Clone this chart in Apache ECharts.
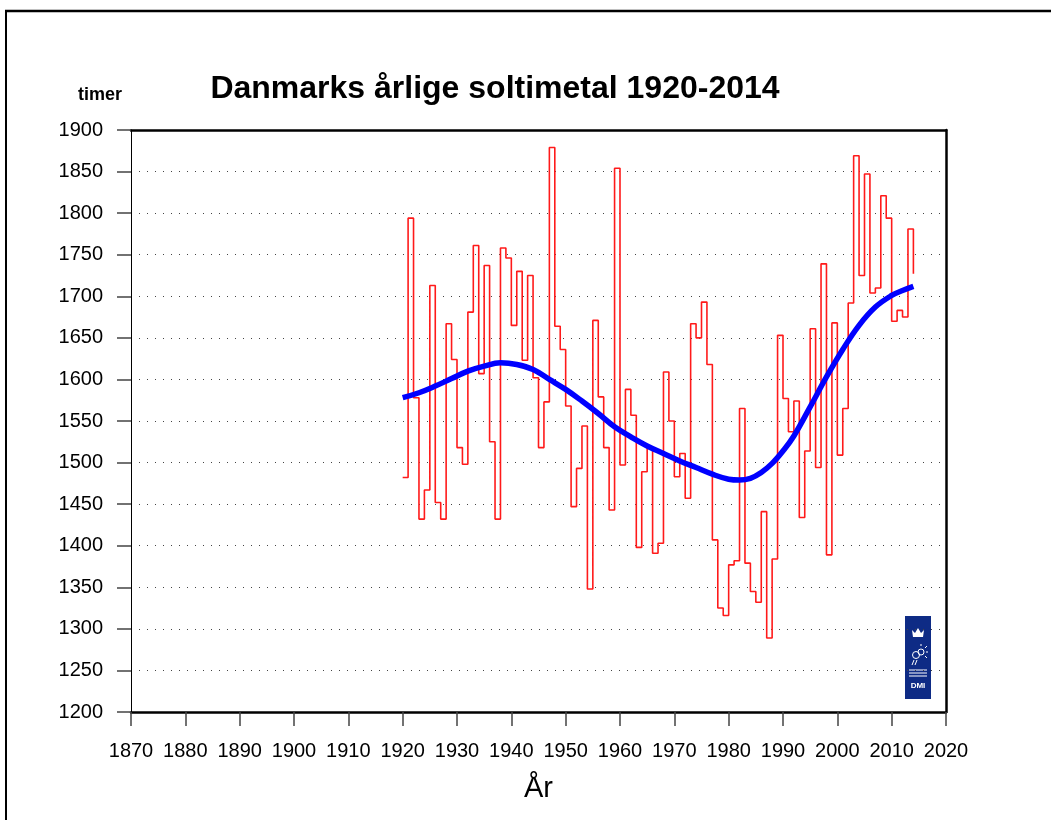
<!DOCTYPE html>
<html>
<head>
<meta charset="utf-8">
<script src="https://cdn.jsdelivr.net/npm/echarts@6/dist/echarts.min.js"></script>
<style>
  html, body { margin: 0; padding: 0; background: #ffffff; }
  #chart { width: 1051px; height: 820px; }
</style>
</head>
<body>
<div id="chart"></div>
<script>
// yearly sunshine hours, Denmark, 1920-2014
const firstYear = 1920
const sunHours = [
  1482, 1794, 1578, 1432, 1467, 1713, 1452, 1432, 1667, 1624,
  1518, 1498, 1681, 1761, 1607, 1737, 1525, 1432, 1758, 1746,
  1665, 1730, 1623, 1725, 1602, 1518, 1573, 1879, 1664, 1636,
  1568, 1447, 1493, 1544, 1348, 1671, 1579, 1518, 1443, 1854,
  1497, 1588, 1557, 1398, 1489, 1519, 1391, 1403, 1609, 1550,
  1483, 1511, 1457, 1667, 1650, 1693, 1618, 1407, 1325, 1316,
  1377, 1382, 1565, 1379, 1345, 1332, 1441, 1289, 1384, 1653,
  1577, 1537, 1574, 1434, 1514, 1661, 1494, 1739, 1389, 1668,
  1509, 1565, 1692, 1869, 1725, 1847, 1704, 1710, 1821, 1794,
  1670, 1683, 1675, 1781, 1727
]

// smoothed trend
const trendYears = [1920, 1923, 1926, 1929, 1932, 1935, 1938, 1941, 1944, 1947, 1950, 1953, 1956, 1959, 1962, 1965, 1968, 1971, 1974, 1977, 1980, 1982, 1984, 1986, 1988, 1990, 1992, 1995, 1998, 2001, 2004, 2007, 2010, 2012, 2014]
const trendHours = [1578, 1584, 1592, 1601, 1610, 1616, 1620, 1618, 1612, 1600, 1588, 1574, 1559, 1543, 1531, 1520, 1511, 1502, 1494, 1486, 1480, 1479, 1481, 1488, 1499, 1514, 1532, 1567, 1603, 1636, 1665, 1687, 1701, 1707, 1712]

const font = 'Arial, "Liberation Sans", sans-serif'

const chart = echarts.init(document.getElementById('chart'), null, { renderer: 'canvas' })

const stepData = sunHours.map((v, i) => [firstYear + i, v])
const trendData = trendYears.map((y, i) => [y, trendHours[i]])

const option = {
  backgroundColor: '#ffffff',
  animation: false,
  title: [
    {
      text: 'Danmarks årlige soltimetal 1920-2014',
      left: 490,
      top: 68,
      textAlign: 'center',
      textStyle: { fontFamily: font, fontSize: 32, fontWeight: 'bold', color: '#000' },
    },
    {
      text: 'timer',
      left: 95,
      top: 81,
      textAlign: 'center',
      textStyle: { fontFamily: font, fontSize: 18, fontWeight: 'bold', color: '#000' },
    },
  ],
  grid: { left: 131, top: 130, right: 105, bottom: 108, show: false },
  xAxis: [
    {
      type: 'value',
      min: 1870,
      max: 2020,
      interval: 10,
      name: 'År',
      nameLocation: 'middle',
      nameGap: 62,
      nameTextStyle: { fontFamily: font, fontSize: 29, color: '#000' },
      axisLine: { show: true, onZero: false, lineStyle: { color: '#000', width: 2.5 } },
      axisTick: { show: true, inside: false, length: 14, lineStyle: { color: '#444', width: 1.5 } },
      axisLabel: { fontFamily: font, fontSize: 20, color: '#000', margin: 29, formatter: (v) => String(v) },
      splitLine: { show: false },
    },
    {
      type: 'value',
      position: 'top',
      min: 1870,
      max: 2020,
      axisLine: { show: true, onZero: false, lineStyle: { color: '#000', width: 2.5 } },
      axisTick: { show: false },
      axisLabel: { show: false },
      splitLine: { show: false },
    },
  ],
  yAxis: [
    {
      type: 'value',
      min: 1200,
      max: 1900,
      interval: 50,
      axisLine: { show: true, onZero: false, lineStyle: { color: '#000', width: 1 } },
      axisTick: { show: true, inside: false, length: 14, lineStyle: { color: '#444', width: 1.5 } },
      axisLabel: { fontFamily: font, fontSize: 20, color: '#000', margin: 28, formatter: (v) => String(v) },
      splitLine: { show: true, lineStyle: { color: '#444', width: 1, type: [1, 7] } },
    },
    {
      type: 'value',
      position: 'right',
      min: 1200,
      max: 1900,
      axisLine: { show: true, onZero: false, lineStyle: { color: '#000', width: 2.5 } },
      axisTick: { show: false },
      axisLabel: { show: false },
      splitLine: { show: false },
    },
  ],
  series: [
    {
      name: 'Soltimer',
      type: 'line',
      step: 'end',
      data: stepData,
      showSymbol: false,
      lineStyle: { color: '#ff1a1a', width: 1.6 },
      z: 2,
    },
    {
      name: 'Udglattet',
      type: 'line',
      smooth: 0.4,
      data: trendData,
      showSymbol: false,
      lineStyle: { color: '#0000ff', width: 5.5 },
      z: 3,
    },
  ],
  graphic: [
    // outer frame
    { type: 'line', shape: { x1: 5, y1: 11, x2: 1051, y2: 11 }, style: { stroke: '#000', lineWidth: 2.5 } },
    { type: 'line', shape: { x1: 6, y1: 11, x2: 6, y2: 820 }, style: { stroke: '#000', lineWidth: 2 } },
    // DMI logo
    {
      type: 'group',
      left: 905,
      top: 616,
      children: [
        { type: 'rect', shape: { x: 0, y: 0, width: 26, height: 83 }, style: { fill: '#0e2b85' } },
        { type: 'polygon', shape: { points: [[8, 21], [7, 14], [10, 17], [13, 12], [16, 17], [19, 14], [18, 21]] }, style: { fill: '#fff' } },
        { type: 'circle', shape: { cx: 16, cy: 36, r: 3 }, style: { fill: 'none', stroke: '#fff', lineWidth: 1 } },
        { type: 'circle', shape: { cx: 11, cy: 39, r: 3.5 }, style: { fill: 'none', stroke: '#fff', lineWidth: 1 } },
        { type: 'line', shape: { x1: 16, y1: 30, x2: 16, y2: 28 }, style: { stroke: '#fff', lineWidth: 1 } },
        { type: 'line', shape: { x1: 21, y1: 36, x2: 23, y2: 36 }, style: { stroke: '#fff', lineWidth: 1 } },
        { type: 'line', shape: { x1: 20, y1: 32, x2: 22, y2: 30 }, style: { stroke: '#fff', lineWidth: 1 } },
        { type: 'line', shape: { x1: 20, y1: 40, x2: 22, y2: 42 }, style: { stroke: '#fff', lineWidth: 1 } },
        { type: 'line', shape: { x1: 9, y1: 44, x2: 7, y2: 49 }, style: { stroke: '#fff', lineWidth: 1 } },
        { type: 'line', shape: { x1: 12, y1: 44, x2: 10, y2: 49 }, style: { stroke: '#fff', lineWidth: 1 } },
        { type: 'line', shape: { x1: 4, y1: 54, x2: 22, y2: 54 }, style: { stroke: '#fff', lineWidth: 1 } },
        { type: 'line', shape: { x1: 4, y1: 57, x2: 22, y2: 57 }, style: { stroke: '#fff', lineWidth: 1 } },
        { type: 'line', shape: { x1: 4, y1: 60, x2: 22, y2: 60 }, style: { stroke: '#fff', lineWidth: 1 } },
        {
          type: 'text',
          style: { text: 'DMI', x: 13, y: 70, textAlign: 'center', textVerticalAlign: 'middle', fill: '#fff', font: 'bold 8px ' + font },
        },
      ],
    },
  ],
}

chart.setOption(option)
</script>
</body>
</html>
